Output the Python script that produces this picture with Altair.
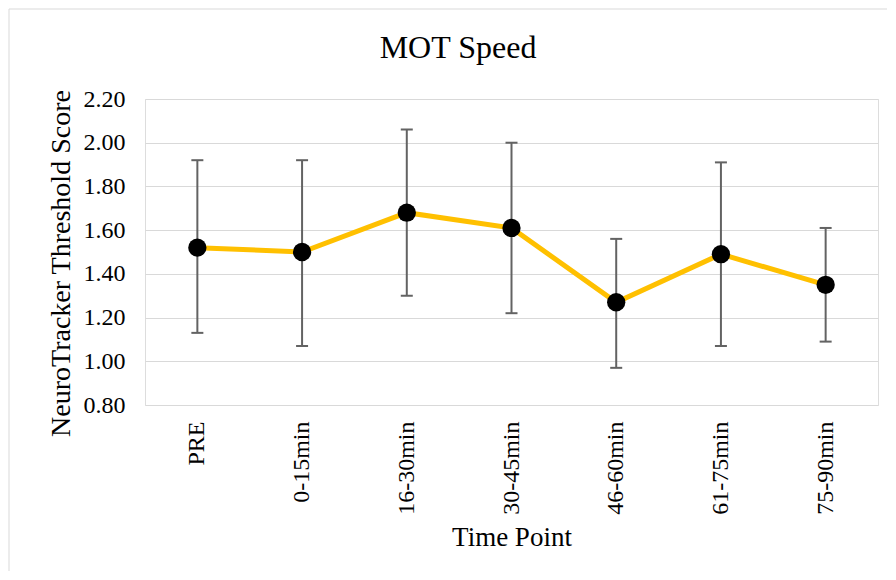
import altair as alt
import pandas as pd

categories = ["PRE", "0-15min", "16-30min", "30-45min", "46-60min", "61-75min", "75-90min"]
means = [1.52, 1.50, 1.68, 1.61, 1.27, 1.49, 1.35]
upper = [1.92, 1.92, 2.06, 2.00, 1.56, 1.91, 1.61]
lower = [1.13, 1.07, 1.30, 1.22, 0.97, 1.07, 1.09]
y_ticks = [0.8, 1.0, 1.2, 1.4, 1.6, 1.8, 2.0, 2.2]

df = pd.DataFrame({"time": categories, "mean": means, "hi": upper, "lo": lower})

W, H = 733, 306
FONT = "Liberation Serif"
ERR = "#636363"

x_enc = alt.X(
    "time:N", sort=categories, title="Time Point",
    axis=alt.Axis(labelAngle=-90, labelFont=FONT, labelFontSize=24, labelColor="black",
                  labelPadding=16, titleFont=FONT, titleFontSize=27, titleColor="black",
                  titleFontWeight="normal", titlePadding=10, domain=False, ticks=False, grid=False),
)
y_scale = alt.Scale(domain=[0.8, 2.2], nice=False, zero=False)
y_axis = alt.Axis(values=y_ticks, format=".2f", labelFont=FONT, labelFontSize=24, labelColor="black",
                  labelPadding=20, titleFont=FONT, titleFontSize=28, titleColor="black",
                  titleFontWeight="normal", titlePadding=8, titleY=H / 2 + 11,
                  domain=False, ticks=False,
                  grid=True, gridColor="#d9d9d9", gridWidth=1)

base = alt.Chart(df)

err = base.mark_rule(color=ERR, strokeWidth=2).encode(
    x=x_enc,
    y=alt.Y("lo:Q", scale=y_scale, axis=y_axis, title="NeuroTracker Threshold Score"),
    y2="hi:Q",
)
cap_hi = base.mark_tick(color=ERR, thickness=2, size=12, opacity=1).encode(x=x_enc, y=alt.Y("hi:Q", scale=y_scale))
cap_lo = base.mark_tick(color=ERR, thickness=2, size=12, opacity=1).encode(x=x_enc, y=alt.Y("lo:Q", scale=y_scale))
line = base.mark_line(color="#FFC000", strokeWidth=5).encode(x=x_enc, y=alt.Y("mean:Q", scale=y_scale))
pts = base.mark_circle(color="black", opacity=1, size=335).encode(x=x_enc, y=alt.Y("mean:Q", scale=y_scale))

frame_df = pd.DataFrame({"k": [0]})
left_border = alt.Chart(frame_df).mark_rule(color="#d9d9d9", strokeWidth=1).encode(
    x=alt.value(-136), y=alt.value(-90), y2=alt.value(H + 166))
top_border = alt.Chart(frame_df).mark_rule(color="#d9d9d9", strokeWidth=1).encode(
    x=alt.value(-136), x2=alt.value(W + 9), y=alt.value(-90))

chart = alt.layer(left_border, top_border, err, cap_hi, cap_lo, line, pts).properties(
    width=W, height=H,
    padding=0,
    title=alt.TitleParams("MOT Speed", font=FONT, fontSize=32, fontWeight="normal", color="black",
                          anchor="middle", frame="bounds", offset=-56, dx=10),
).configure_view(stroke=None).configure(background="white")

chart.save("out.html", embed_options={"renderer": "svg", "actions": False})
